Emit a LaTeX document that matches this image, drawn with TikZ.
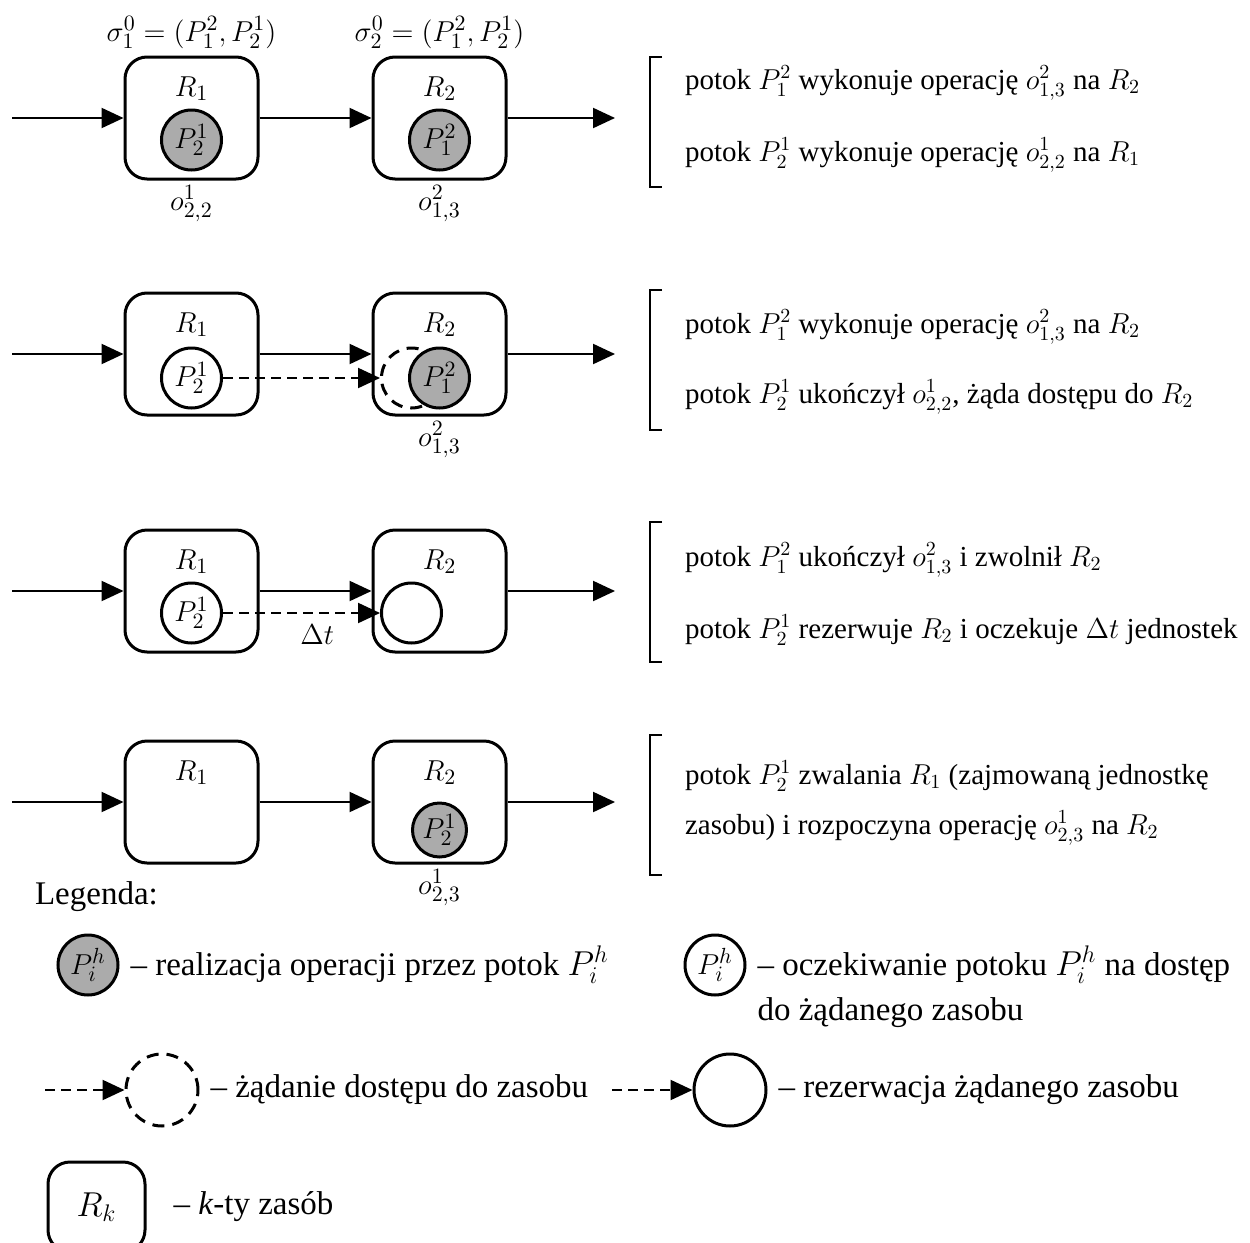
\documentclass[tikz,border=0pt]{standalone}
\usepackage{fontspec}
\setmainfont{Liberation Serif}
\usetikzlibrary{arrows.meta,positioning,calc}

\begin{document}
\begin{tikzpicture}[x=0.5pt,y=-0.5pt,
  every node/.style={font=\fontsize{15}{18}\selectfont},
  zasob/.style={draw,line width=1.5pt,rounded corners=11pt,minimum width=66.5pt,minimum height=61pt},
  potok/.style={circle,draw,line width=1.5pt,minimum size=30pt,inner sep=0pt},
  aktywny/.style={potok,fill=black!33},
  przeplyw/.style={->,line width=1.1pt},
  zadanie/.style={->,line width=1.1pt,dash pattern=on 5pt off 3pt},
  nawias/.style={line width=1.4pt},
  opis/.style={anchor=west,font=\fontsize{14.5}{18}\selectfont},
  legtekst/.style={font=\fontsize{16.5}{20}\selectfont},
  >={Triangle[length=11pt,width=10pt]}]
  \useasboundingbox (0,0) rectangle (1250,1243);
  \clip (0,0) rectangle (1250,1243);
  \def \dx {28}

  %% state 1
  \node[zasob] (zasob1a) at (191.5,118) {};
  \node[zasob] (zasob2a) at (439.5,118) {};
  \node[below=7pt of zasob1a.north] (et1a) {$R_1$};
  \node[below=7pt of zasob2a.north] (et2a) {$R_2$};
  \node[above=0pt of zasob1a] (sigma1) {$\sigma_1^0=(P_1^2,P_2^1)$};
  \node[above=0pt of zasob2a] (sigma2) {$\sigma_2^0=(P_1^2,P_2^1)$};
  \node[aktywny] (potok1a) at ($(zasob1a)+(0,22)$) {$P_2^1$};
  \node[aktywny] (potok2a) at ($(zasob2a)+(0,22)$) {$P_1^2$};
  \node[below=-1pt of zasob1a] (op1a) {$o_{2,2}^1$};
  \node[below=-1pt of zasob2a] (op2a) {$o_{1,3}^2$};
  \coordinate (wej1) at (12,118);
  \coordinate (wyj1) at (615,118);
  \draw[przeplyw] (wej1) -- (zasob1a);
  \draw[przeplyw] (zasob1a) -- (zasob2a);
  \draw[przeplyw] (zasob2a) -- (wyj1);
  \node[opis] (opis1a) at (678,83) {potok $P_1^2$ wykonuje operację $o_{1,3}^2$ na $R_2$};
  \node[opis] (opis1b) at (678,155) {potok $P_2^1$ wykonuje operację $o_{2,2}^1$ na $R_1$};
  \draw[nawias] (662,57) -| (650,187) -- (662,187);

  %% state 2
  \node[zasob] (zasob1b) at (191.5,354) {};
  \node[zasob] (zasob2b) at (439.5,354) {};
  \node[below=7pt of zasob1b.north] (et1b) {$R_1$};
  \node[below=7pt of zasob2b.north] (et2b) {$R_2$};
  \node[potok] (potok1b) at ($(zasob1b)+(0,24)$) {$P_2^1$};
  \node[potok,dash pattern=on 6pt off 4pt] (zad2b) at ($(zasob2b)+(-\dx,24)$) {};
  \node[aktywny] (potok2b) at ($(zasob2b)+(0,24)$) {$P_1^2$};
  \node[below=-1pt of zasob2b] (op2b) {$o_{1,3}^2$};
  \coordinate (wej2) at (12,354);
  \coordinate (wyj2) at (615,354);
  \draw[przeplyw] (wej2) -- (zasob1b);
  \draw[przeplyw] (zasob1b) -- (zasob2b);
  \draw[przeplyw] (zasob2b) -- (wyj2);
  \draw[zadanie] (potok1b) -- (zad2b);
  \node[opis] (opis2a) at (678,327) {potok $P_1^2$ wykonuje operację $o_{1,3}^2$ na $R_2$};
  \node[opis] (opis2b) at (678,397) {potok $P_2^1$ ukończył $o_{2,2}^1$, żąda dostępu do $R_2$};
  \draw[nawias] (662,290) -| (650,430) -- (662,430);

  %% state 3
  \node[zasob] (zasob1c) at (191.5,591) {};
  \node[zasob] (zasob2c) at (439.5,591) {};
  \node[below=7pt of zasob1c.north] (et1c) {$R_1$};
  \node[below=7pt of zasob2c.north] (et2c) {$R_2$};
  \node[potok] (potok1c) at ($(zasob1c)+(0,22)$) {$P_2^1$};
  \node[potok] (rez2c) at ($(zasob2c)+(-\dx,22)$) {};
  \coordinate (wej3) at (12,591);
  \coordinate (wyj3) at (615,591);
  \draw[przeplyw] (wej3) -- (zasob1c);
  \draw[przeplyw] (zasob1c) -- (zasob2c);
  \draw[przeplyw] (zasob2c) -- (wyj3);
  \draw[zadanie] (potok1c) -- node[pos=0.6,below=2pt] (czas) {$\Delta t$} (rez2c);
  \node[opis] (opis3a) at (678,560) {potok $P_1^2$ ukończył $o_{1,3}^2$ i zwolnił $R_2$};
  \node[opis] (opis3b) at (678,630) {potok $P_2^1$ rezerwuje $R_2$ i oczekuje $\Delta t$ jednostek};
  \draw[nawias] (662,522) -| (650,662) -- (662,662);

  %% state 4
  \node[zasob] (zasob1d) at (191.5,802) {};
  \node[zasob] (zasob2d) at (439.5,802) {};
  \node[below=7pt of zasob1d.north] (et1d) {$R_1$};
  \node[below=7pt of zasob2d.north] (et2d) {$R_2$};
  \node[aktywny,minimum size=27pt] (potok2d) at ($(zasob2d)+(0,28)$) {$P_2^1$};
  \node[below=-1pt of zasob2d] (op2d) {$o_{2,3}^1$};
  \coordinate (wej4) at (12,802);
  \coordinate (wyj4) at (615,802);
  \draw[przeplyw] (wej4) -- (zasob1d);
  \draw[przeplyw] (zasob1d) -- (zasob2d);
  \draw[przeplyw] (zasob2d) -- (wyj4);
  \node[opis,align=left,font=\fontsize{14.5}{25}\selectfont] (opis4) at (678,803)
    {potok $P_2^1$ zwalania $R_1$ (zajmowaną jednostkę\\zasobu) i rozpoczyna operację $o_{2,3}^1$ na $R_2$};
  \draw[nawias] (662,735) -| (650,875) -- (662,875);

  %% legend
  \node[anchor=west,legtekst] (legenda) at (28,897) {Legenda:};
  \node[aktywny] (leg1) at (88,965) {$P_i^h$};
  \node[right=2pt of leg1,legtekst] (legopis1) {-- realizacja operacji przez potok $P_i^h$};
  \node[potok] (leg2) at (715,965) {$P_i^h$};
  \node[right=2pt of leg2,legtekst] (legopis2) {-- oczekiwanie potoku $P_i^h$ na dostęp};
  \node[anchor=north west,legtekst] (legopis2b) at (legopis2.south west) {do żądanego zasobu};

  \coordinate (legwej1) at (45,1090);
  \node[potok,minimum size=36pt,dash pattern=on 6pt off 4pt] (leg3) at (162,1090) {};
  \draw[zadanie] (legwej1) -- (leg3);
  \node[right=2pt of leg3,legtekst] (legopis3) {-- żądanie dostępu do zasobu};
  \coordinate (legwej2) at (612,1090);
  \node[potok,minimum size=36pt] (leg4) at (730,1090) {};
  \draw[zadanie] (legwej2) -- (leg4);
  \node[right=2pt of leg4,legtekst] (legopis4) {-- rezerwacja żądanego zasobu};

  \node[zasob,minimum width=48.5pt,minimum height=45pt,legtekst] (leg5) at (96.5,1207) {$R_k$};
  \node[right=10pt of leg5,legtekst] (legopis5) {-- \textit{k}-ty zasób};
\end{tikzpicture}
\end{document}
